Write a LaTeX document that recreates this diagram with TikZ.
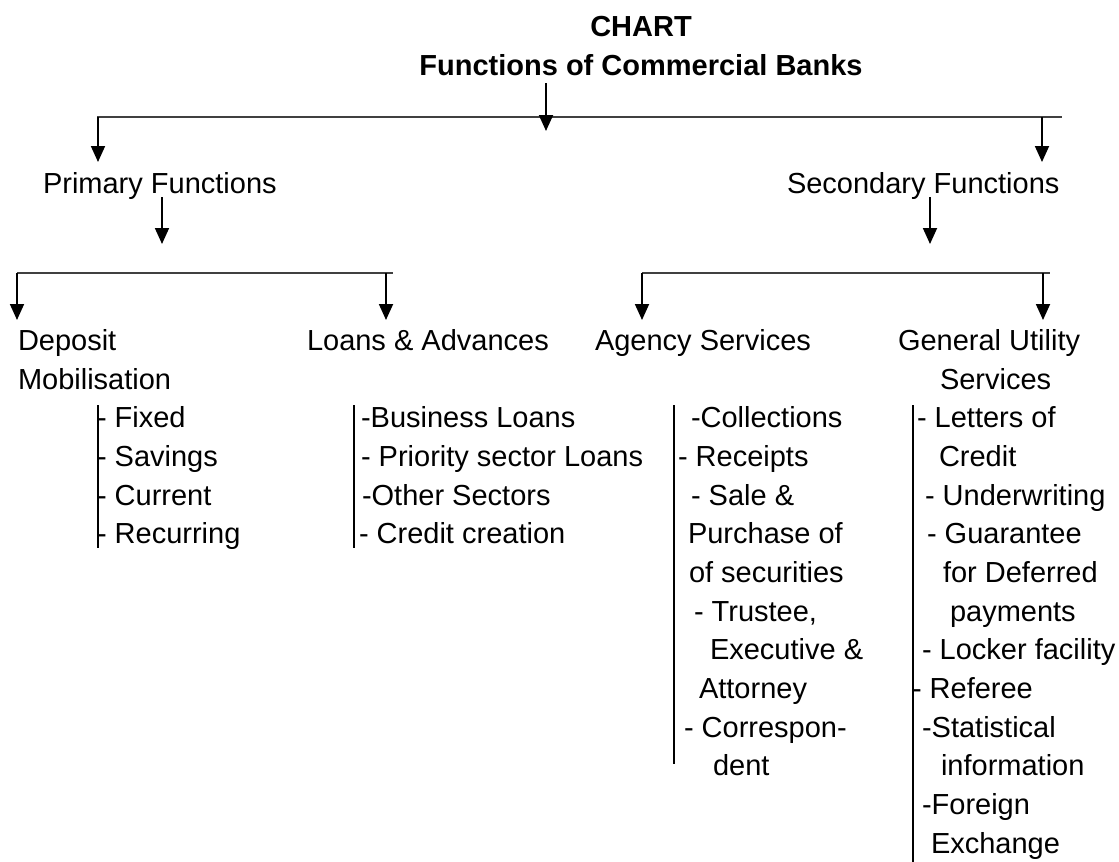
\documentclass[tikz,border=0pt]{standalone}
\usepackage{fontspec}
\setmainfont{Liberation Sans}
\usetikzlibrary{arrows.meta}

\begin{document}
\begin{tikzpicture}[
  x=1pt, y=-1pt,
  txt/.style={anchor=base west, inner sep=0pt, outer sep=0pt,
              font=\fontsize{29}{38.7}\selectfont},
  head/.style={anchor=base, inner sep=0pt, outer sep=0pt,
               font=\fontsize{29}{38.7}\selectfont\bfseries},
  link/.style={line width=1.8pt, black},
  down/.style={link, -{Triangle[width=14pt,length=16pt]}},
  rail/.style={line width=2pt, black!75},
  bar/.style={line width=2pt, black}
]
\useasboundingbox (0,0) rectangle (1119,862);

% ---------- headings ----------
\node[head] (chart) at (641,36) {CHART};
\node[head] (title) at (641,75) {Functions of Commercial Banks};

% ---------- level 1 ----------
\node[txt] (prim) at (43,193) {Primary Functions};
\node[txt] (sec)  at (787,193) {Secondary Functions};

% ---------- level 2 ----------
\node[txt] (dep1) at (18,350) {Deposit};
\node[txt] (dep2) at (18,389) {Mobilisation};
\node[txt] (loan) at (307,350) {Loans \& Advances};
\node[txt] (agen) at (595,350) {Agency Services};
\node[txt] (gen1) at (898,350) {General Utility};
\node[txt] (gen2) at (940,389) {Services};

% ---------- branch coordinates ----------
\coordinate (tA) at (546,83);   \coordinate (tB) at (546,131);
\coordinate (r1L) at (97,117);  \coordinate (r1R) at (1062,117);
\coordinate (p0) at (98,117);   \coordinate (p1) at (98,162);
\coordinate (s0) at (1042,117); \coordinate (s1) at (1042,162);
\coordinate (pA) at (162,197);  \coordinate (pB) at (162,244);
\coordinate (sA) at (930,197);  \coordinate (sB) at (930,244);
\coordinate (r2L) at (17,273);  \coordinate (r2R) at (393,273);
\coordinate (d0) at (17,273);   \coordinate (d1) at (17,320);
\coordinate (l0) at (386,273);  \coordinate (l1) at (386,320);
\coordinate (r3L) at (642,273); \coordinate (r3R) at (1050,273);
\coordinate (a0) at (642,273);  \coordinate (a1) at (642,320);
\coordinate (g0) at (1043,273); \coordinate (g1) at (1043,320);

% ---------- connectors ----------
\draw[rail] (r1L) -- (r1R);
\draw[down] (tA) -- (tB);
\draw[down] (p0) -- (p1);
\draw[down] (s0) -- (s1);
\draw[down] (pA) -- (pB);
\draw[down] (sA) -- (sB);
\draw[rail] (r2L) -- (r2R);
\draw[down] (d0) -- (d1);
\draw[down] (l0) -- (l1);
\draw[rail] (r3L) -- (r3R);
\draw[down] (a0) -- (a1);
\draw[down] (g0) -- (g1);

% ---------- item bars ----------
\draw[bar] (98,405) -- (98,548);
\draw[bar] (354,405) -- (354,548);
\draw[bar] (674,405) -- (674,764);
\draw[bar] (913,405) -- (913,862);

% ---------- deposit items ----------
\node[txt] (dp1) at (97,427) {- Fixed};
\node[txt] (dp2) at (97,466) {- Savings};
\node[txt] (dp3) at (97,505) {- Current};
\node[txt] (dp4) at (97,543) {- Recurring};

% ---------- loan items ----------
\node[txt] (ln1) at (361,427) {-Business Loans};
\node[txt] (ln2) at (361,466) {- Priority sector Loans};
\node[txt] (ln3) at (362,505) {-Other Sectors};
\node[txt] (ln4) at (359,543) {- Credit creation};

% ---------- agency items ----------
\node[txt] (ag1)  at (691,427) {-Collections};
\node[txt] (ag2)  at (678,466) {- Receipts};
\node[txt] (ag3)  at (691,505) {- Sale \&};
\node[txt] (ag4)  at (688,543) {Purchase of};
\node[txt] (ag5)  at (689,582) {of securities};
\node[txt] (ag6)  at (694,621) {- Trustee,};
\node[txt] (ag7)  at (710,659) {Executive \&};
\node[txt] (ag8)  at (699,698) {Attorney};
\node[txt] (ag9)  at (684,737) {- Correspon-};
\node[txt] (ag10) at (713,775) {dent};

% ---------- general utility items ----------
\node[txt] (gu1)  at (917,427) {- Letters of};
\node[txt] (gu2)  at (939,466) {Credit};
\node[txt] (gu3)  at (925,505) {- Underwriting};
\node[txt] (gu4)  at (927,543) {- Guarantee};
\node[txt] (gu5)  at (943,582) {for Deferred};
\node[txt] (gu6)  at (950,621) {payments};
\node[txt] (gu7)  at (922,659) {- Locker facility};
\node[txt] (gu8)  at (912,698) {- Referee};
\node[txt] (gu9)  at (922,737) {-Statistical};
\node[txt] (gu10) at (941,775) {information};
\node[txt] (gu11) at (922,814) {-Foreign};
\node[txt] (gu12) at (931,853) {Exchange};
\end{tikzpicture}
\end{document}
